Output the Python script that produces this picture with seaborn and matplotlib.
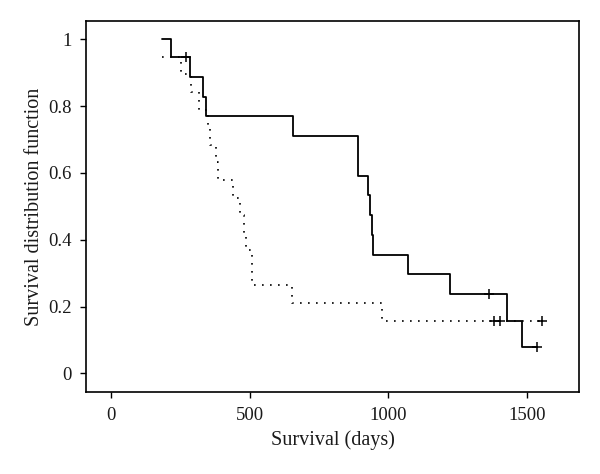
import numpy as np
import pandas as pd
import matplotlib
matplotlib.use("Agg")
import matplotlib.pyplot as plt
import seaborn as sns

# Kaplan-Meier style step curves (time of drop -> survival after drop)
solid_times = [185, 215, 285, 332, 342, 657, 892, 928, 934, 940, 946, 1070, 1222, 1429, 1481]
solid_surv = [1.0, 0.947, 0.888, 0.828, 0.770, 0.710, 0.592, 0.533, 0.473, 0.414, 0.355, 0.296, 0.237, 0.158, 0.079]
solid_end = 1538
solid_censor = [272, 1362, 1538]

dotted_times = [185, 252, 287, 317, 351, 359, 380, 386, 440, 465, 480, 486, 510, 652, 976]
dotted_surv = [0.947, 0.895, 0.842, 0.789, 0.737, 0.684, 0.632, 0.579, 0.526, 0.474, 0.421, 0.368, 0.263, 0.211, 0.158]
dotted_end = 1556
dotted_censor = [1381, 1402, 1556]

x_ticks = [0, 500, 1000, 1500]
y_ticks = [0, 0.2, 0.4, 0.6, 0.8, 1]
y_tick_labels = ["0", "0.2", "0.4", "0.6", "0.8", "1"]

sns.set_theme(style="ticks")
plt.rcParams['font.family'] = ['Liberation Serif', 'DejaVu Serif']


def step_frame(times, surv, end):
    return pd.DataFrame({'t': list(times) + [end], 's': list(surv) + [surv[-1]]})


def censor_frame(times, surv, cens):
    idx = np.searchsorted(times, cens, side='right') - 1
    return pd.DataFrame({'t': cens, 's': [surv[i] for i in idx]})


fig = plt.figure(figsize=(6, 4.74), dpi=100)
ax = fig.add_axes([0.1433, 0.173, 0.8217, 0.7827])

df_solid = step_frame(solid_times, solid_surv, solid_end)
df_dot = step_frame(dotted_times, dotted_surv, dotted_end)

sns.lineplot(data=df_solid, x='t', y='s', ax=ax, color='black', linewidth=1.3,
             drawstyle='steps-post', estimator=None)
sns.lineplot(data=df_dot, x='t', y='s', ax=ax, color='black', linewidth=1.2,
             drawstyle='steps-post', estimator=None, linestyle=(0, (1, 3.8)))

sns.scatterplot(data=censor_frame(solid_times, solid_surv, solid_censor), x='t', y='s',
                ax=ax, marker='+', s=45, color='black', linewidth=1.1)
sns.scatterplot(data=censor_frame(dotted_times, dotted_surv, dotted_censor), x='t', y='s',
                ax=ax, marker='+', s=45, color='black', linewidth=1.1)

ax.set_xlim(-90, 1688)
ax.set_ylim(-0.056, 1.055)
ax.set_xticks(x_ticks)
ax.set_yticks(y_ticks)
ax.set_yticklabels(y_tick_labels)
ax.tick_params(axis='both', labelsize=13.5, length=4.5, width=1, color='black',
               labelcolor='#1a1a1a', pad=6)
for sp in ax.spines.values():
    sp.set_color('black')
    sp.set_linewidth(1.2)

ax.set_xlabel('Survival (days)', fontsize=14.5, color='#1a1a1a', labelpad=5)
ax.set_ylabel('Survival distribution function', fontsize=14.5, color='#1a1a1a', labelpad=3)

fig.savefig('out.png', dpi=100)
